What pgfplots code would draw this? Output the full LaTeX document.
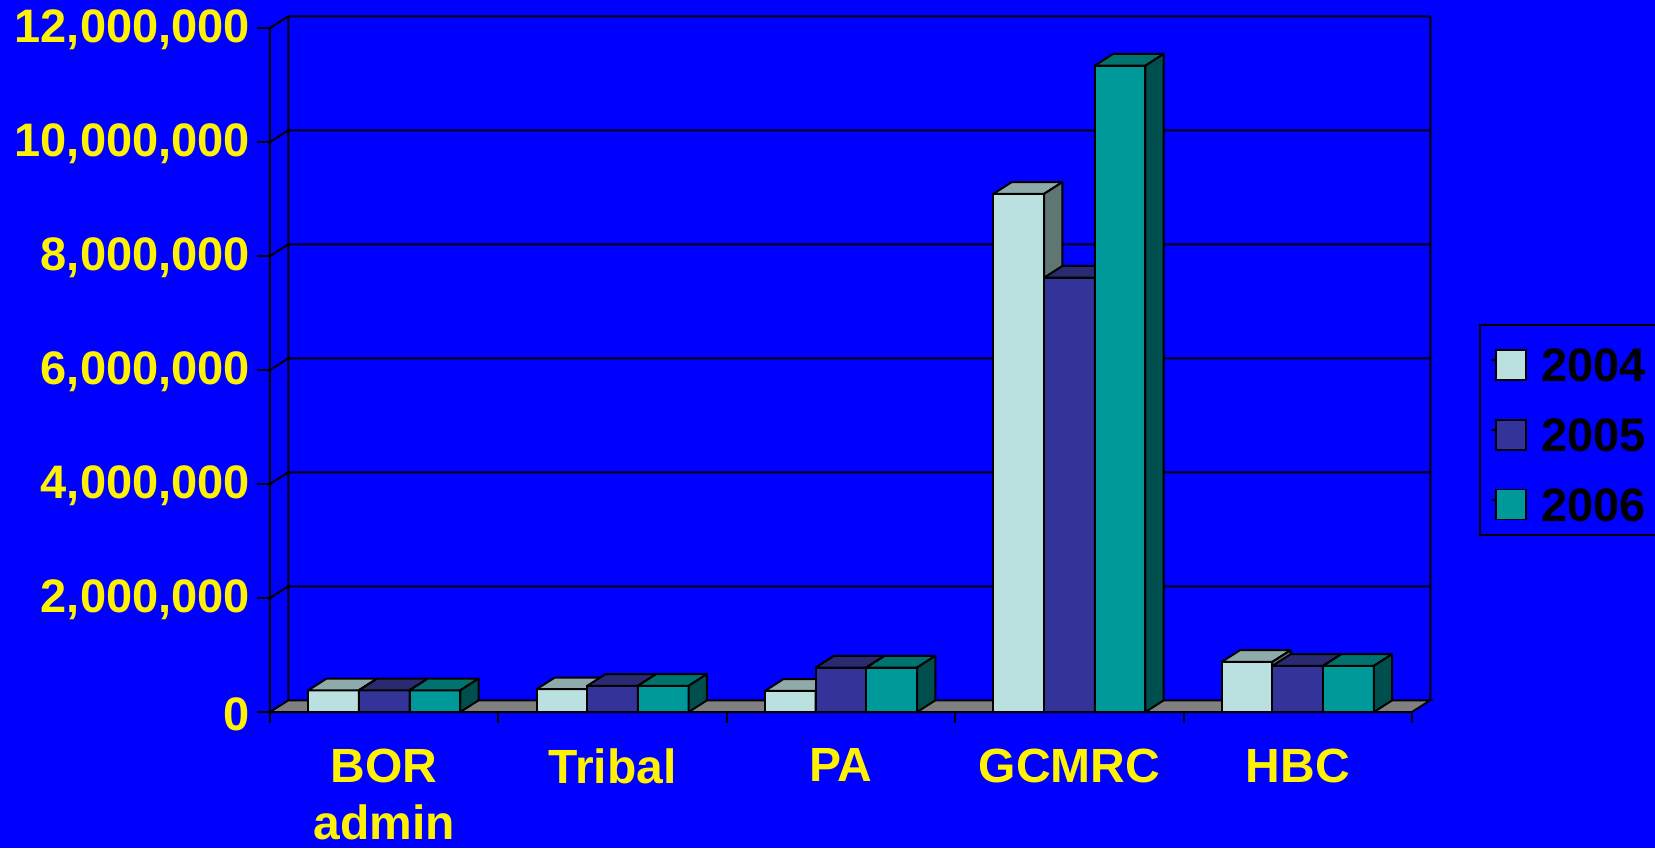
\documentclass[border=0pt]{standalone}
\usepackage{pgfplots}
\pgfplotsset{compat=1.18}
\usepackage{pgfplotstable}
\usepackage{fontspec}
\setmainfont{Liberation Sans}

\definecolor{bg}{HTML}{0000FF}
\definecolor{afront}{HTML}{BAE0E0}
\definecolor{atop}{HTML}{8FAAAA}
\definecolor{aside}{HTML}{5F7673}
\definecolor{bfront}{HTML}{333399}
\definecolor{btop}{HTML}{2A2A70}
\definecolor{bside}{HTML}{1F1F5C}
\definecolor{cfront}{HTML}{009999}
\definecolor{ctop}{HTML}{00736F}
\definecolor{cside}{HTML}{004F4F}
\definecolor{floorc}{HTML}{808080}

% values in millions
\pgfplotstableread{
x a b c
0 0.38 0.38 0.38
1 0.40 0.46 0.46
2 0.37 0.78 0.78
3 9.09 7.62 11.34
4 0.88 0.81 0.81
}\datatable

\newcommand\faces[4]{%
  \pgfplotstablegetelem{#1}{#2}\of\datatable
  \pgfmathsetmacro\vv{\pgfplotsretval}%
  \pgfmathsetmacro\xl{#1+(#3)*0.222-0.111}%
  \pgfmathsetmacro\xr{\xl+0.222}%
  \pgfmathsetmacro\xlb{\xl+0.08}%
  \pgfmathsetmacro\xrb{\xr+0.08}%
  \pgfmathsetmacro\vb{\vv+0.205}%
  \edef\tmp{%
   \noexpand\addplot[forget plot, fill=#4top, draw=black, line width=1pt, line join=round] coordinates {(\xl,\vv) (\xr,\vv) (\xrb,\vb) (\xlb,\vb)} -- cycle;
   \noexpand\addplot[forget plot, fill=#4side, draw=black, line width=1pt, line join=round] coordinates {(\xr,0) (\xr,\vv) (\xrb,\vb) (\xrb,0.205)} -- cycle;
  }\tmp
}

\begin{document}
\begin{tikzpicture}
\fill[bg] (0,0) rectangle (827.5pt,424pt);
\useasboundingbox (0,0) rectangle (827.5pt,424pt);
\begin{axis}[
  at={(135pt,68pt)}, anchor=south west,
  scale only axis, width=571pt, height=342pt,
  xmin=-0.5, xmax=4.5, ymin=0, ymax=12,
  clip=false,
  axis x line=bottom, axis y line=left,
  axis line style={draw=none},
  tick align=outside,
  tick style={black, line width=1pt},
  ytick={0,2,...,12},
  yticklabels={0,{2,000,000},{4,000,000},{6,000,000},{8,000,000},{10,000,000},{12,000,000}},
  major tick length=6.5pt,
  yticklabel style={font=\fontsize{23.5pt}{23.5pt}\selectfont\bfseries, text=yellow, yshift=-1pt},
  xtick={0,...,4},
  xticklabels={{BOR\\admin},Tribal,PA,GCMRC,HBC},
  x tick style={draw=none},
  minor xtick={-0.5,0.5,...,4.5},
  minor tick length=5.5pt,
  minor x tick style={black, line width=1pt, draw=black},
  xticklabel style={font=\fontsize{24pt}{28.5pt}\selectfont\bfseries, text=yellow, align=center, inner sep=0pt, yshift=-11.7pt},
  legend image code/.code={\path (0pt,0pt) -- (2.6pt,0pt);\draw[#1,draw=black,line width=0.8pt] (2.6pt,-9.85pt) rectangle (17.6pt,5.15pt);},
  legend style={draw=black, line width=1pt, fill=bg, at={(1.0587,0.567)}, anchor=north west,
    inner xsep=5pt, inner ysep=6.9pt, row sep=13.3pt, column sep=7.1pt,
    font=\fontsize{23.5pt}{23.5pt}\selectfont\bfseries, nodes={inner sep=0pt, text=black, text height=21.5pt, text depth=0pt}},
  legend cell align=left,
]
% back wall grid lines with connectors to the front axis
\addplot[forget plot, black, line width=1pt, unbounded coords=jump] coordinates {
 (-0.5,2) (-0.42,2.205) (4.58,2.205) (nan,nan)
 (-0.5,4) (-0.42,4.205) (4.58,4.205) (nan,nan)
 (-0.5,6) (-0.42,6.205) (4.58,6.205) (nan,nan)
 (-0.5,8) (-0.42,8.205) (4.58,8.205) (nan,nan)
 (-0.5,10) (-0.42,10.205) (4.58,10.205) (nan,nan)
 (-0.5,12) (-0.42,12.205) (4.58,12.205) (nan,nan)
 (-0.42,0.205) (-0.42,12.205) (nan,nan)
 (4.58,0.205) (4.58,12.205) (nan,nan)
 (-0.5,0) (-0.5,12)
};
% floor
\addplot[forget plot, fill=floorc, draw=black, line width=1pt] coordinates {(-0.5,0) (4.5,0) (4.58,0.205) (-0.42,0.205)} -- cycle;
% 2004
\addplot[forget plot, ybar, bar width=0.222, bar shift=-0.222, fill=afront, draw=black, line width=1pt] table[x=x, y=a] {\datatable};
\pgfplotsinvokeforeach{0,...,4}{\faces{#1}{a}{-1}{a}}
% 2005
\addplot[forget plot, ybar, bar width=0.222, bar shift=0, fill=bfront, draw=black, line width=1pt] table[x=x, y=b] {\datatable};
\pgfplotsinvokeforeach{0,...,4}{\faces{#1}{b}{0}{b}}
% 2006
\addplot[forget plot, ybar, bar width=0.222, bar shift=0.222, fill=cfront, draw=black, line width=1pt] table[x=x, y=c] {\datatable};
\pgfplotsinvokeforeach{0,...,4}{\faces{#1}{c}{1}{c}}
\addlegendimage{fill=afront}\addlegendentry{2004}
\addlegendimage{fill=bfront}\addlegendentry{2005}
\addlegendimage{fill=cfront}\addlegendentry{2006}
\end{axis}
\end{tikzpicture}
\end{document}
